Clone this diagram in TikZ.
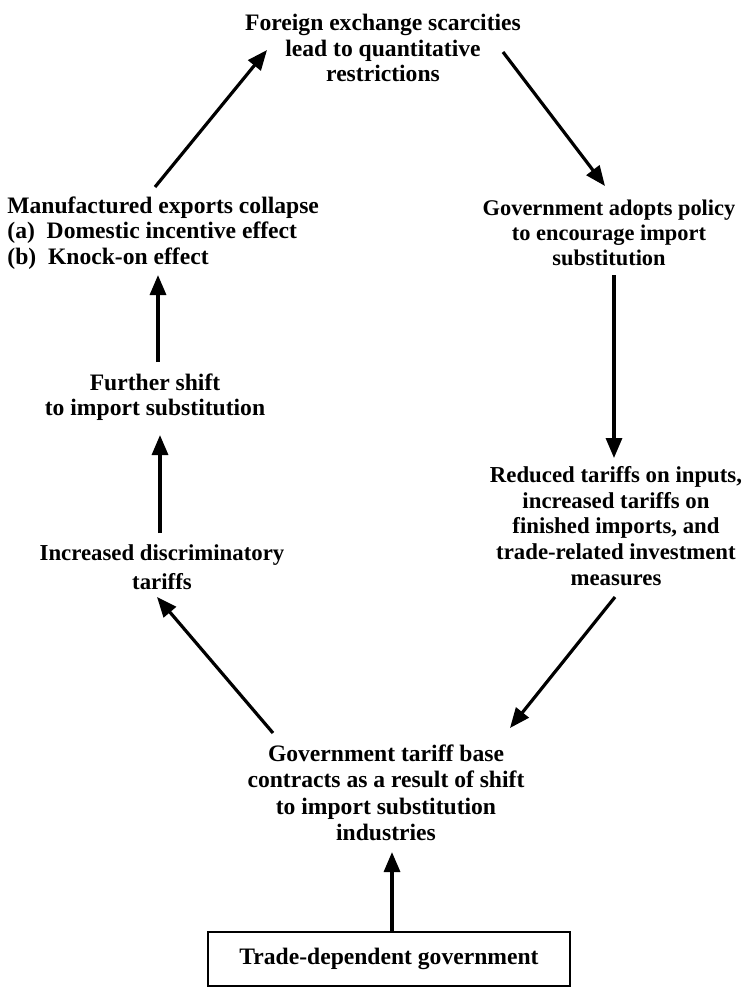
\documentclass[tikz,border=0pt]{standalone}
\usepackage{fontspec}
\setmainfont{Liberation Serif}
\usepackage{tikz}
\usetikzlibrary{calc}
\usetikzlibrary{arrows.meta}

\tikzset{
	txt/.style={font=\fontsize{11.8}{12.6}\selectfont\bfseries, align=center, inner sep=0pt},
	flow/.style={line width=1.6pt, -{Triangle[length=10pt, width=8pt]}}
}

\begin{document}
\begin{tikzpicture}[x=0.5pt, y=-0.5pt]
	
	\useasboundingbox (0, 0) rectangle (747, 987);
	
	\draw (383, 48) node (fx) [txt] {Foreign exchange scarcities\\lead to quantitative\\restrictions};
	\draw (609, 233) node (pol) [txt, font=\fontsize{11.2}{12.6}\selectfont\bfseries] {Government adopts policy\\to encourage import\\substitution};
	\draw (616, 526) node (red) [txt, font=\fontsize{11.4}{12.8}\selectfont\bfseries] {Reduced tariffs on inputs,\\increased tariffs on\\finished imports, and\\trade-related investment\\measures};
	\draw (386, 793) node (base) [txt, font=\fontsize{11.8}{13.2}\selectfont\bfseries] {Government tariff base\\contracts as a result of shift\\to import substitution\\industries};
	\draw (162, 567.5) node (disc) [txt, font=\fontsize{11.4}{14.4}\selectfont\bfseries] {Increased discriminatory\\tariffs};
	\draw (155, 397.5) node (shift) [txt] {Further shift\\to import substitution};
	\draw (7, 233) node (mfg) [txt, anchor=west, align=left] {Manufactured exports collapse\\(a)\ \ Domestic incentive effect\\(b)\ \ Knock-on effect};
	
	\draw (389, 959) node (trade) [txt, draw, line width=1.3pt, minimum width=181pt, minimum height=27pt] {Trade-dependent government};
	
	\draw [flow] ($(mfg.west)+(148, -46)$) -- ($(fx)+(-116, 2)$);
	\draw [flow] ($(fx)+(120, 4)$) -- ($(pol)+(-4, -47)$);
	\draw [flow] ($(pol)+(5, 42)$) -- ($(red)+(-2, -68)$);
	\draw [flow] ($(red)+(-1, 71)$) -- ($(base)+(124, -65)$);
	\draw [flow] ($(base)+(-113, -60)$) -- ($(disc)+(-5, 29.5)$);
	\draw [flow] ($(disc)+(-2, -34.5)$) -- ($(shift)+(5, 37.5)$);
	\draw [flow] ($(shift)+(3, -35.5)$) -- ($(mfg.west)+(151, 42)$);
	\draw [flow] ($(trade.north)+(3, 0)$) -- ($(base)+(6, 59)$);
	
\end{tikzpicture}
\end{document}
